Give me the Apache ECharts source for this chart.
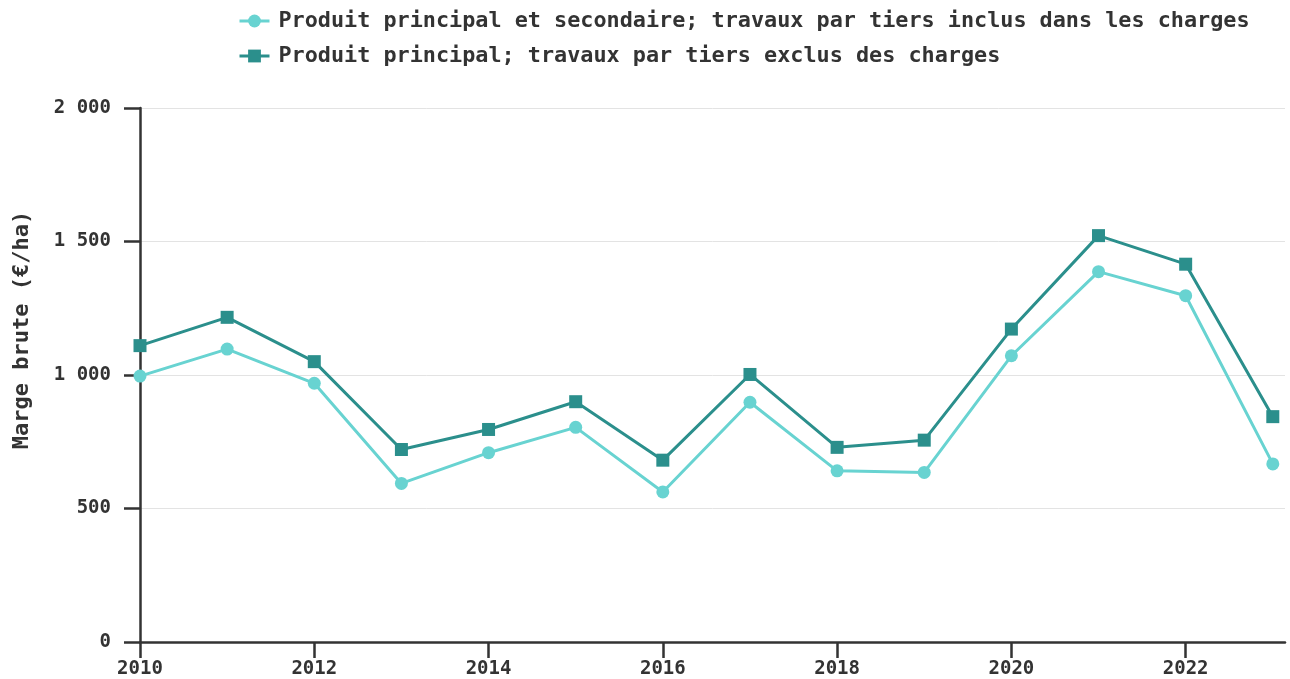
<!DOCTYPE html>
<html><head><meta charset="utf-8">
<script src="https://cdn.jsdelivr.net/npm/echarts@6/dist/echarts.min.js"></script>
<style>html,body{margin:0;padding:0;background:#fff}#c{width:1290px;height:679px}</style>
</head><body><div id="c"></div>
<script>
const years = [2010,2011,2012,2013,2014,2015,2016,2017,2018,2019,2020,2021,2022,2023];
const seriesNames = ["Produit principal et secondaire; travaux par tiers inclus dans les charges","Produit principal; travaux par tiers exclus des charges"];
const margeInclus = [996,1097,969,594,709,804,562,898,641,635,1072,1387,1297,667];
const margeExclus = [1110,1216,1050,721,796,900,681,1002,729,756,1172,1522,1415,844];
const xTicks = [2010,2012,2014,2016,2018,2020,2022];
const yTicks = [0,500,1000,1500,2000];
const yTitle = "Marge brute (€/ha)";

const FONT = '"DejaVu Sans Mono", monospace';
const fmt = v => String(v).replace(/\B(?=(\d{3})+(?!\d))/g, ' ');
const chart = echarts.init(document.getElementById('c'), null, {renderer:'canvas'});
chart.setOption({
  animation:false,
  backgroundColor:'#fff',
  legend:{
    orient:'vertical', left:238, top:10, padding:0, itemGap:13,
    itemWidth:30, itemHeight:16,
    lineStyle:{width:3},
    textStyle:{fontFamily:FONT, fontWeight:'bold', fontSize:21.8, color:'#333', padding:[0,0,0,4]},
    data:seriesNames
  },
  grid:{left:140, right:5, top:108, bottom:37, containLabel:false},
  xAxis:{
    type:'value', min:2010, max:2023.14,
    splitLine:{show:false},
    axisLine:{show:true, onZero:false, lineStyle:{color:'#333', width:2.5}},
    axisTick:{show:true, length:16, lineStyle:{color:'#333', width:2.5}, customValues:xTicks},
    axisLabel:{customValues:xTicks, margin:18, fontFamily:FONT, fontWeight:'bold', fontSize:19, color:'#333', formatter:v=>String(v)}
  },
  yAxis:{
    type:'value', min:0, max:2000, interval:500,
    splitLine:{show:true, lineStyle:{color:'#e3e3e3', width:1}},
    axisLine:{show:true, lineStyle:{color:'#333', width:2.5}},
    axisTick:{show:true, length:16, lineStyle:{color:'#333', width:2.5}},
    axisLabel:{margin:29, fontFamily:FONT, fontWeight:'bold', fontSize:19, color:'#333', formatter:v=>fmt(v)}
  },
  graphic:[{
    type:'text', x:22, y:330, rotation:Math.PI/2,
    style:{text:yTitle, fontFamily:FONT, fontWeight:'bold', fontSize:22, fill:'#333', align:'center', verticalAlign:'middle'}
  }],
  series:[
    {name:seriesNames[0], type:'line', data:years.map((y,i)=>[y,margeInclus[i]]),
     symbol:'circle', symbolSize:13, color:'#68d3d1',
     lineStyle:{width:3, color:'#68d3d1'}, itemStyle:{color:'#68d3d1'}, z:2},
    {name:seriesNames[1], type:'line', data:years.map((y,i)=>[y,margeExclus[i]]),
     symbol:'rect', symbolSize:13, color:'#2b8f8c',
     lineStyle:{width:3, color:'#2b8f8c'}, itemStyle:{color:'#2b8f8c'}, z:3}
  ]
});
</script></body></html>
